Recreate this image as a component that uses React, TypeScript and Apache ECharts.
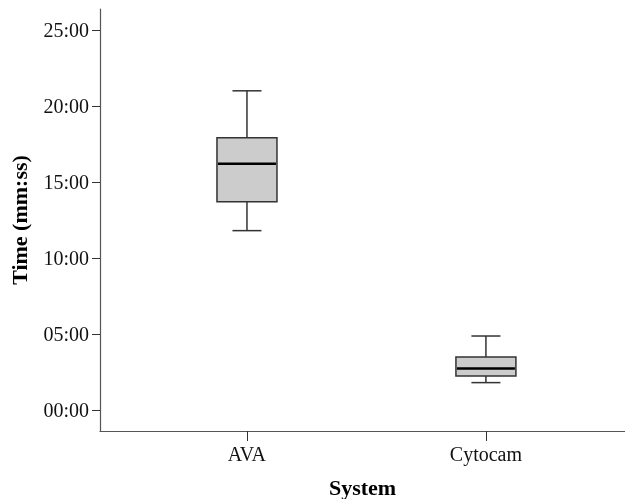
import React, { useEffect, useRef } from "react";
import * as echarts from "echarts";

// Categories and their positions on the x axis
const categories = ["AVA", "Cytocam"];
const positions = [1, 2];
// Box statistics in seconds: [min, Q1, median, Q3, max]
const avaStats = [708, 822, 972, 1075, 1260];
const cytocamStats = [108, 134, 164, 209, 292];
// Y tick values (seconds)
const yTicks = [0, 300, 600, 900, 1200, 1500];

const fmt = (s: number) => {
  const m = Math.floor(s / 60);
  const sec = Math.round(s % 60);
  return String(m).padStart(2, "0") + ":" + String(sec).padStart(2, "0");
};

export default function App() {
  const ref = useRef<HTMLDivElement>(null);
  useEffect(() => {
    if (!ref.current) return;
    const chart = echarts.init(ref.current, undefined, { renderer: "svg", width: 625, height: 499 });
    const stats = [avaStats, cytocamStats];
    const font = "Liberation Serif";
    const boxW = 60;
    const capW = 29;
    const edge = "#333";
    chart.setOption({
      animation: false,
      grid: { left: 100, right: 0, top: 9, height: 422, outerBoundsMode: "none", containLabel: false },
      xAxis: {
        type: "value",
        min: 0.385,
        max: 2.582,
        name: "System",
        nameLocation: "middle",
        nameGap: 45,
        nameTextStyle: { fontFamily: font, fontSize: 22, fontWeight: "bold", color: "#000" },
        axisLine: { show: true, onZero: false, lineStyle: { color: "#555", width: 1.2 } },
        axisTick: { show: true, length: 10, customValues: positions, lineStyle: { color: "#333" } },
        axisLabel: {
          customValues: positions,
          margin: 13,
          fontFamily: font,
          fontSize: 20,
          color: "#111",
          formatter: (v: number) => categories[positions.indexOf(Math.round(v))] || "",
        },
        splitLine: { show: false },
      },
      yAxis: {
        type: "value",
        min: -83,
        max: 1583,
        name: "Time (mm:ss)",
        nameLocation: "middle",
        nameGap: 70,
        nameTextStyle: { fontFamily: font, fontSize: 22, fontWeight: "bold", color: "#000" },
        axisLine: { show: true, onZero: false, lineStyle: { color: "#555", width: 1.2 } },
        axisTick: { show: true, length: 8, customValues: yTicks, lineStyle: { color: "#333" } },
        axisLabel: {
          customValues: yTicks,
          margin: 11,
          fontFamily: font,
          fontSize: 20,
          color: "#111",
          formatter: (v: number) => fmt(v),
        },
        splitLine: { show: false },
      },
      series: [
        {
          type: "custom",
          encode: { x: 0, y: [1, 2, 3, 4, 5] },
          data: stats.map((s, i) => [positions[i], ...s]),
          renderItem: (params: any, api: any) => {
            const x = api.value(0);
            const pMin = api.coord([x, api.value(1)]);
            const pQ1 = api.coord([x, api.value(2)]);
            const pMed = api.coord([x, api.value(3)]);
            const pQ3 = api.coord([x, api.value(4)]);
            const pMax = api.coord([x, api.value(5)]);
            const cx = pMin[0];
            const lineStyle = { stroke: edge, lineWidth: 1.5 };
            return {
              type: "group",
              children: [
                { type: "line", shape: { x1: cx, y1: pMax[1], x2: cx, y2: pQ3[1] }, style: lineStyle },
                { type: "line", shape: { x1: cx, y1: pQ1[1], x2: cx, y2: pMin[1] }, style: lineStyle },
                { type: "line", shape: { x1: cx - capW / 2, y1: pMax[1], x2: cx + capW / 2, y2: pMax[1] }, style: lineStyle },
                { type: "line", shape: { x1: cx - capW / 2, y1: pMin[1], x2: cx + capW / 2, y2: pMin[1] }, style: lineStyle },
                {
                  type: "rect",
                  shape: { x: cx - boxW / 2, y: pQ3[1], width: boxW, height: pQ1[1] - pQ3[1] },
                  style: { fill: "#cccccc", stroke: edge, lineWidth: 1.5 },
                },
                {
                  type: "line",
                  shape: { x1: cx - boxW / 2 + 1, y1: pMed[1], x2: cx + boxW / 2 - 1, y2: pMed[1] },
                  style: { stroke: "#000", lineWidth: 2.6 },
                },
              ],
            };
          },
        },
      ],
    });
    return () => chart.dispose();
  }, []);
  return (
    <div
      ref={ref}
      style={{ position: "fixed", left: 0, top: 0, width: 625, height: 499 }}
    />
  );
}
